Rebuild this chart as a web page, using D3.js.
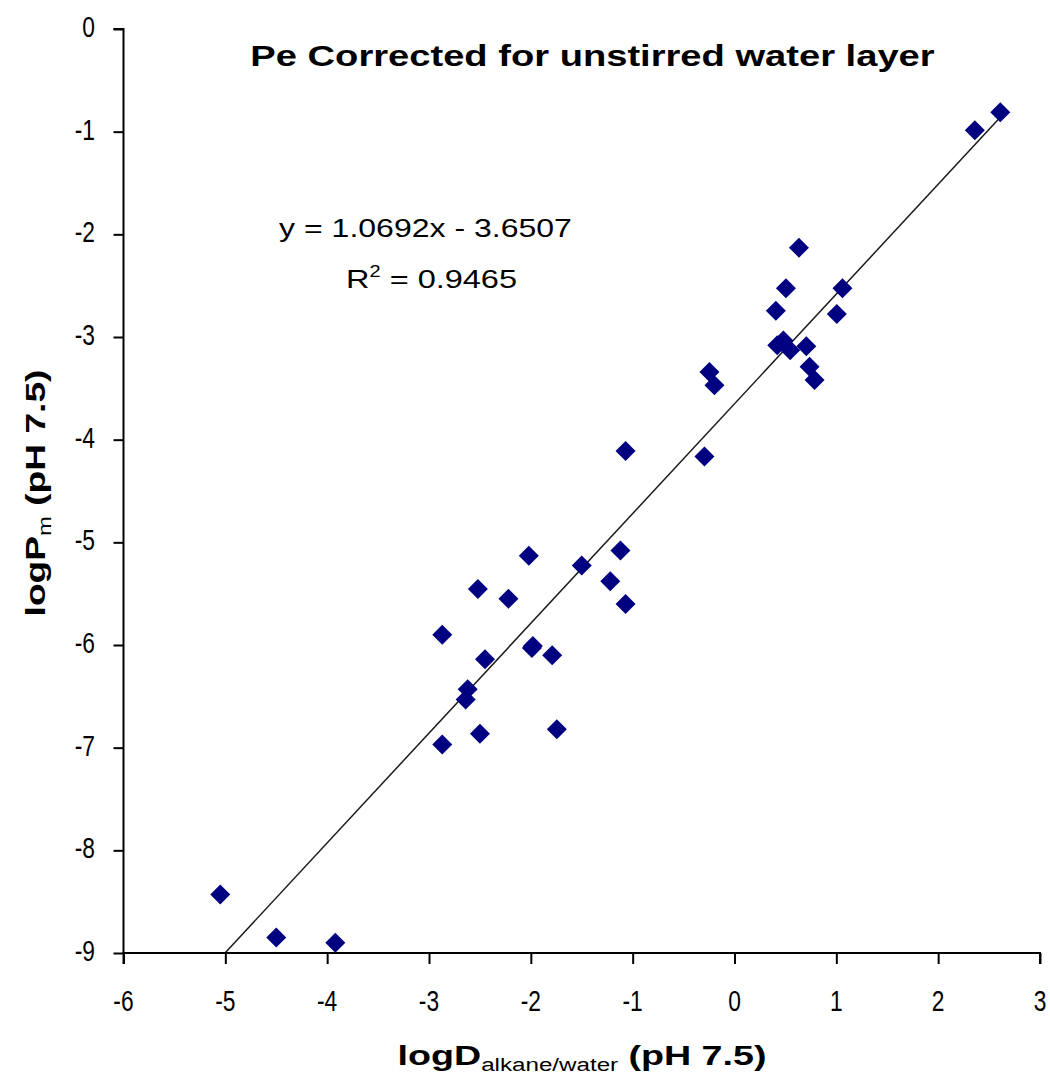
<!DOCTYPE html>
<html>
<head>
<meta charset="utf-8">
<script src="https://cdn.jsdelivr.net/npm/d3@7/dist/d3.min.js"></script>
<style>
  html, body { margin: 0; padding: 0; background: #fff; }
  svg { display: block; }
</style>
</head>
<body>
<svg id="chart" width="1050" height="1081"></svg>
<script>
// ---- data ----
const logD = [-5.05, -4.50, -3.92, -2.87, -2.50, -1.745, -2.64, -2.62, -2.45, -1.98, -1.99, -1.79,
  -2.87, -2.52, -2.22, -1.07, -1.22, -1.50, -2.02, -1.12, -1.07, -0.295, -0.246, -0.197,
  0.42, 0.48, 0.547, 0.705, 0.737, 0.786, 0.406, 0.505, 1.06, 1.005, 0.633, 2.36, 2.61];
const logPm = [-8.43, -8.85, -8.90, -6.97, -6.865, -6.82, -6.53, -6.43, -6.14, -6.01, -6.03, -6.10,
  -5.90, -5.455, -5.55, -5.60, -5.38, -5.225, -5.13, -5.08, -4.11, -4.165, -3.34, -3.47,
  -3.08, -3.035, -3.13, -3.09, -3.29, -3.42, -2.745, -2.525, -2.525, -2.775, -2.13, -0.985, -0.81];
const xTicks = [-6, -5, -4, -3, -2, -1, 0, 1, 2, 3];
const yTicks = [0, -1, -2, -3, -4, -5, -6, -7, -8, -9];
const slope = 1.0692;
const intercept = -3.6507;
const eqText = "y = 1.0692x - 3.6507";
const r2Value = "0.9465";
const titleText = "Pe Corrected for unstirred water layer";

// ---- layout ----
const svg = d3.select("#chart");
const x = d3.scaleLinear().domain([-6, 3]).range([123.5, 1040]);
const y = d3.scaleLinear().domain([0, -9]).range([29, 953]);

const font = "'Liberation Sans', Arial, sans-serif";

function fit(g, targetW) {
  const w = g.node().getBBox().width;
  return targetW / w;
}

// trendline (clipped to plot area)
svg.append("clipPath").attr("id", "plotclip").append("rect")
  .attr("x", x(-6)).attr("y", y(0)).attr("width", x(3) - x(-6)).attr("height", y(-9) - y(0));
const xmin = d3.min(logD), xmax = d3.max(logD);
svg.append("line")
  .attr("clip-path", "url(#plotclip)")
  .attr("x1", x(xmin)).attr("y1", y(slope * xmin + intercept))
  .attr("x2", x(xmax)).attr("y2", y(slope * xmax + intercept))
  .attr("stroke", "#1a1a1a").attr("stroke-width", 1.5);

// axes
const yAxis = d3.axisLeft(y).tickValues(yTicks).tickSize(10).tickFormat("");
const gy = svg.append("g").attr("transform", `translate(${x(-6)},0)`).call(yAxis);
const xAxis = d3.axisBottom(x).tickValues(xTicks).tickSize(11).tickFormat("");
const gx = svg.append("g").attr("transform", `translate(0,${y(-9)})`).call(xAxis);
[gx, gy].forEach(g => {
  g.select(".domain").attr("stroke", "#000").attr("stroke-width", 2);
  g.selectAll(".tick line").attr("stroke", "#000").attr("stroke-width", 2);
});
gy.select(".domain").attr("d", `M-10,${y(0)}H0V${y(-9)}`);
gx.select(".domain").attr("d", `M${x(-6)},11V0H${x(3)}V11`);

// tick labels (narrow look)
yTicks.forEach(v => {
  svg.append("text")
    .attr("transform", `translate(95,${y(v) + 8}) scale(0.76,1)`)
    .attr("text-anchor", "end")
    .attr("font-family", font).attr("font-size", 30).attr("fill", "#000")
    .text(d3.format("d")(v).replace("−", "-"));
});
xTicks.forEach(v => {
  svg.append("text")
    .attr("transform", `translate(${x(v)},1011) scale(0.76,1)`)
    .attr("text-anchor", "middle")
    .attr("font-family", font).attr("font-size", 30).attr("fill", "#000")
    .text(d3.format("d")(v).replace("−", "-"));
});

// points
svg.append("g").selectAll("path")
  .data(d3.zip(logD, logPm))
  .join("path")
  .attr("transform", d => `translate(${x(d[0])},${y(d[1])})`)
  .attr("d", "M0,-10L10,0L0,10L-10,0Z")
  .attr("fill", "#000080");

// title
{
  const g = svg.append("g");
  const t = g.append("text").attr("font-family", font).attr("font-weight", "bold")
    .attr("font-size", 30).attr("text-anchor", "middle").attr("fill", "#000").text(titleText);
  const k = fit(g, 685);
  g.attr("transform", `translate(592.5,66) scale(${k},1)`);
}

// equation
{
  const g = svg.append("g");
  g.append("text").attr("font-family", font).attr("font-size", 26)
    .attr("text-anchor", "middle").attr("fill", "#000").text(eqText);
  const k = fit(g, 293);
  g.attr("transform", `translate(425.5,237) scale(${k},1)`);
}
{
  const g = svg.append("g");
  const t = g.append("text").attr("font-family", font).attr("font-size", 26)
    .attr("text-anchor", "middle").attr("fill", "#000");
  t.append("tspan").text("R");
  t.append("tspan").attr("font-size", 16).attr("dy", -11).text("2");
  t.append("tspan").attr("dy", 11).text(" = " + r2Value);
  const k = fit(g, 171);
  g.attr("transform", `translate(431.5,288) scale(${k},1)`);
}

// y label
{
  const g = svg.append("g");
  const t = g.append("text").attr("font-family", font).attr("font-size", 28)
    .attr("font-weight", "bold").attr("text-anchor", "middle").attr("fill", "#000");
  t.append("tspan").text("logP");
  t.append("tspan").attr("font-size", 18).attr("font-weight", "normal").attr("dy", 6).text("m");
  t.append("tspan").attr("dy", -6).text(" (pH 7.5)");
  const k = fit(g, 247);
  g.attr("transform", `translate(45,493) rotate(-90) scale(${k},1)`);
}

// x label
{
  const g = svg.append("g");
  const t = g.append("text").attr("font-family", font).attr("font-size", 28)
    .attr("font-weight", "bold").attr("text-anchor", "middle").attr("fill", "#000");
  t.append("tspan").text("logD");
  t.append("tspan").attr("font-size", 18).attr("font-weight", "normal").attr("dy", 6).text("alkane/water");
  t.append("tspan").attr("dy", -6).text(" (pH 7.5)");
  const k = fit(g, 369);
  g.attr("transform", `translate(582,1065) scale(${k},1)`);
}
</script>
</body>
</html>
